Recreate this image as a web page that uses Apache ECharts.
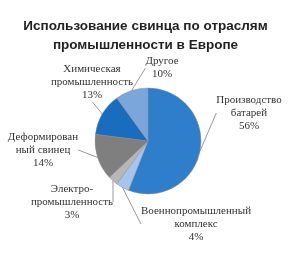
<!DOCTYPE html>
<html>
<head>
<meta charset="utf-8">
<script src="https://cdn.jsdelivr.net/npm/echarts@6/dist/echarts.min.js"></script>
<style>
  html, body { margin: 0; padding: 0; background: #fff; }
  #chart { width: 291px; height: 257px; }
</style>
</head>
<body>
<div id="chart"></div>
<script>
// отрасли и доли (%)
var sectors = [
  "Производство\nбатарей",
  "Военнопромышленный\nкомплекс",
  "Электро-\nпромышленность",
  "Деформирован\nный свинец",
  "Химическая\nпромышленность",
  "Другое"
];
var shares = [56, 4, 3, 14, 13, 10];

var sliceColors = ["#2e7ecb", "#a8c4ec", "#b7b7b7", "#7f7f7f", "#1a6cbf", "#7ba6dc"];
// центр подписей (x, y)
var labelPos = [
  [249, 113], [196, 224], [72, 202], [43, 150], [92, 82], [162, 68]
];

var myChart = echarts.init(document.getElementById("chart"));
myChart.setOption({
  animation: false,
  title: {
    text: "Использование свинца по отраслям\nпромышленности в Европе",
    left: "center",
    top: 12,
    textStyle: {
      fontFamily: "Liberation Sans",
      fontSize: 13.5,
      fontWeight: "bold",
      color: "#222",
      lineHeight: 19
    }
  },
  series: [
    {
      type: "pie",
      center: [148, 141],
      radius: [0, 53],
      startAngle: 90,
      clockwise: true,
      data: sectors.map(function (name, i) {
        return { name: name, value: shares[i], itemStyle: { color: sliceColors[i] } };
      }),
      itemStyle: {
        borderColor: "#8a8a8a",
        borderWidth: 0.5
      },
      label: {
        show: true,
        formatter: "{b}\n{c}%",
        fontFamily: "Liberation Serif",
        fontSize: 11,
        lineHeight: 13,
        color: "#333",
        align: "center",
        overflow: "none",
        alignTo: "none"
      },
      labelLine: {
        show: true,
        length: 8,
        length2: 0,
        lineStyle: { color: "#999", width: 1 }
      },
      labelLayout: function (params) {
        var p = labelPos[params.dataIndex];
        return {
          x: p[0],
          y: p[1],
          align: "center",
          verticalAlign: "middle"
        };
      }
    }
  ]
});
</script>
</body>
</html>
